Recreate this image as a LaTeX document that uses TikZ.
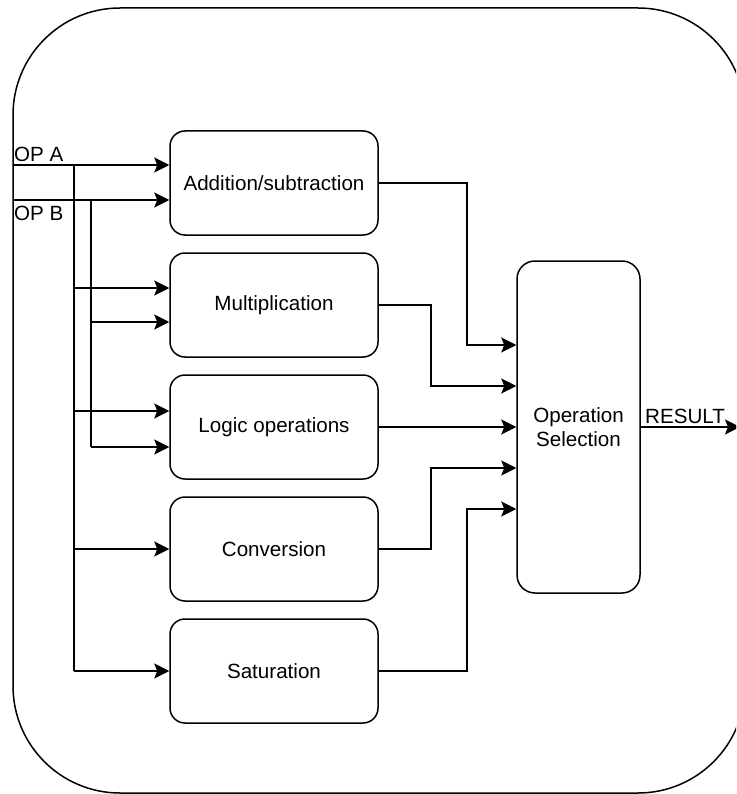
\documentclass[tikz,border=0pt]{standalone}
\usepackage{fontspec}
\setmainfont{Liberation Sans}
\usetikzlibrary{arrows.meta}
\begin{document}
\begin{tikzpicture}[x=1pt,y=-1pt,
  wire/.style={line width=1.5pt},
  arr/.style={wire,-{Stealth[length=15pt,width=15pt,inset=3pt]}},
  txt/.style={font=\fontsize{20.6}{24}\selectfont},
  block/.style={draw,wire,txt,rounded corners=15pt,minimum width=208pt,minimum height=104pt,inner sep=0pt},
  lbl/.style={txt,inner sep=0pt,anchor=base west}]
\useasboundingbox (0,0) rectangle (736,794);
\clip (0,0) rectangle (736,794);

% enclosing frame
\draw[wire,rounded corners=107pt] (13,8) rectangle (745,793);

% arithmetic / logic units
\node[block] (add)   at (274,183) {Addition/subtraction};
\node[block] (mult)  at (274,305) {Multiplication};
\node[block] (logic) at (274,427) {Logic operations};
\node[block] (conv)  at (274,549) {Conversion};
\node[block] (sat)   at (274,671) {Saturation};

% result multiplexer
\node[block,minimum width=123pt,minimum height=332pt,rounded corners=18pt,align=center] (sel) at (578.5,427) {Operation\\Selection};

% operand inputs
\coordinate (inA) at (13,165);
\coordinate (inB) at (13,200);
\coordinate (busA) at (74,165);
\coordinate (busB) at (91,200);
\coordinate (busAend) at (74,671);
\coordinate (busBend) at (91,447);

\draw[arr] (inA) -- (add.west |- inA);
\draw[arr] (inB) -- (add.west |- inB);
\draw[wire] (busA) -- (busAend);
\draw[wire] (busB) -- (busBend);

\coordinate (tA1) at (74,288);
\coordinate (tB1) at (91,322);
\coordinate (tA2) at (74,411);
\coordinate (tA3) at (74,549);
\draw[arr] (tA1) -- (mult.west |- tA1);
\draw[arr] (tB1) -- (mult.west |- tB1);
\draw[arr] (tA2) -- (logic.west |- tA2);
\draw[arr] (busBend) -- (logic.west |- busBend);
\draw[arr] (tA3) -- (conv.west);
\draw[arr] (busAend) -- (sat.west);

\node[lbl] (opa) at (14,162) {OP A};
\node[lbl] (opb) at (14,221) {OP B};

% unit outputs into the selector
\path (sel.west) ++(0,-82) coordinate (s1);
\path (sel.west) ++(0,-41) coordinate (s2);
\path (sel.west) coordinate (s3);
\path (sel.west) ++(0,41) coordinate (s4);
\path (sel.west) ++(0,82) coordinate (s5);

\draw[arr] (add.east) -| (467,345) -- (s1);
\draw[arr] (mult.east) -| (431,386) -- (s2);
\draw[arr] (logic.east) -- (s3);
\draw[arr] (conv.east) -| (431,468) -- (s4);
\draw[arr] (sat.east) -| (467,509) -- (s5);

% output
\coordinate (res) at (740,427);
\draw[arr] (sel.east) -- (res);
\node[lbl] (reslbl) at (645,423) {RESULT};
\end{tikzpicture}
\end{document}
